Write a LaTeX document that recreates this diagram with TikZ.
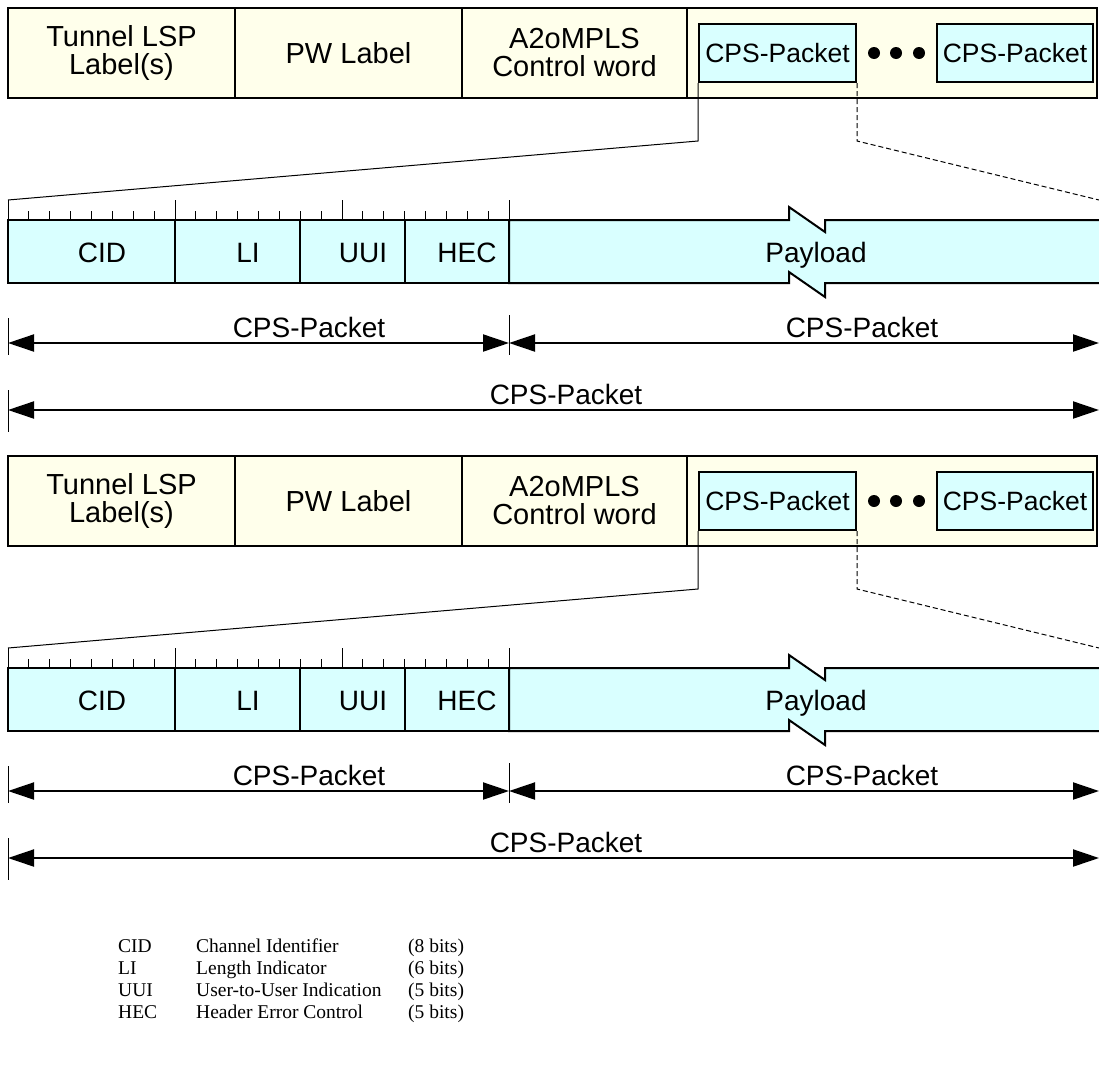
\documentclass[tikz,border=0pt]{standalone}
\usepackage{fontspec}
\setmainfont{Liberation Sans}
\newfontfamily\legendfont{Liberation Serif}
\usetikzlibrary{arrows.meta}
\definecolor{hdrfill}{rgb}{1.000,1.000,0.922}
\definecolor{cpsfill}{rgb}{0.851,1.000,1.000}
\definecolor{myblack}{rgb}{0.000,0.000,0.000}
\tikzstyle{hdr}=[rectangle,fill=hdrfill,draw=myblack,line width=2pt,minimum height=90pt,inner sep=0pt,align=center,font=\fontsize{29}{28}\selectfont]
\tikzstyle{cps}=[rectangle,fill=cpsfill,draw=myblack,line width=2pt,minimum height=58pt,minimum width=157pt,inner sep=0pt,font=\fontsize{26.5}{27}\selectfont]
\tikzstyle{field}=[rectangle,fill=cpsfill,draw=myblack,line width=2pt,minimum height=63pt,inner sep=0pt]
\tikzstyle{dot}=[circle,fill=myblack,minimum size=12pt,inner sep=0pt]
\tikzstyle{dim}=[line width=2pt,{Triangle[length=26pt,width=17pt]}-{Triangle[length=26pt,width=17pt]}]
\tikzstyle{lbl}=[anchor=base,inner sep=0pt,font=\fontsize{28}{28}\selectfont]
\tikzstyle{leg}=[anchor=base west,inner sep=0pt,font=\legendfont\fontsize{19.5}{22}\selectfont]

\begin{document}
\begin{tikzpicture}[x=1pt,y=-1pt]
	\useasboundingbox (0,0) rectangle (1099,1076);
	\foreach \s/\n in {0/a,448/b} {
	\begin{scope}[yshift=-\s pt]
		% header
		\node [style=hdr,minimum width=227pt] (\n0) at (121.5,53) {Tunnel LSP\\Label(s)};
		\node [style=hdr,minimum width=227pt] (\n1) at (348.5,53) {PW Label};
		\node [style=hdr,minimum width=225pt] (\n2) at (574.5,53) {A2oMPLS\\Control word};
		\node [style=hdr,minimum width=410pt] (\n3) at (892,53) {};
		\node [style=cps] (\n4) at (777.5,53) {CPS-Packet};
		\node [style=dot] (\n5) at (874,53) {};
		\node [style=dot] (\n6) at (896,53) {};
		\node [style=dot] (\n7) at (919,53) {};
		\node [style=cps,minimum width=156pt] (\n8) at (1015,53) {CPS-Packet};
		\coordinate (\n9) at (8,200);
		\coordinate (\n10) at (1099,200);
		\draw [line width=1pt] (\n4.south west) -- ++(0,58) -- (\n9);
		\draw [line width=1pt,dash pattern=on 5pt off 3pt] (\n4.south east) -- ++(0,58) -- (\n10);
		% payload with break
		\filldraw [fill=cpsfill,draw=myblack,line width=2pt] (509,220) -- (789,220) -- (789,207) -- (825,232) -- (825,220) -- (1103,220) -- (1103,283) -- (825,283) -- (825,297) -- (789,272) -- (789,283) -- (509,283) -- cycle;
		\node [style=field,minimum width=167pt] (\n11) at (91.5,251.5) {};
		\node [style=field,minimum width=125pt] (\n12) at (237.5,251.5) {};
		\node [style=field,minimum width=105pt] (\n13) at (352.5,251.5) {};
		\node [style=field,minimum width=104pt] (\n14) at (457,251.5) {};
		\node [style=lbl] (\n15) at (102,262) {CID};
		\node [style=lbl] (\n16) at (248,262) {LI};
		\node [style=lbl] (\n17) at (363,262) {UUI};
		\node [style=lbl] (\n18) at (467,262) {HEC};
		\node [style=lbl] (\n19) at (816,262) {Payload};
		% bit ruler
		\draw [line width=1pt] (8,200) -- (8,220) (175,200) -- (175,220) (342,200) -- (342,220) (509,200) -- (509,220);
		\foreach \t in {1,...,23} \draw [line width=1pt] (8+20.875*\t,211) -- (8+20.875*\t,220);
		% lengths
		\draw [line width=1pt] (8,318) -- (8,355) (509,315) -- (509,355) (8,390) -- (8,432);
		\coordinate (\n20) at (8,343);
		\coordinate (\n21) at (509,343);
		\coordinate (\n22) at (1099,343);
		\coordinate (\n23) at (8,410);
		\coordinate (\n24) at (1099,410);
		\draw [style=dim] (\n20) -- (\n21);
		\draw [style=dim] (\n21) -- (\n22);
		\draw [style=dim] (\n23) -- (\n24);
		\node [style=lbl] (\n25) at (309,337) {CPS-Packet};
		\node [style=lbl] (\n26) at (862,337) {CPS-Packet};
		\node [style=lbl] (\n27) at (566,404) {CPS-Packet};
	\end{scope}
	}
	% legend
	\node [style=leg] (l0) at (118,952) {CID};
	\node [style=leg] (l1) at (196,952) {Channel Identifier};
	\node [style=leg] (l2) at (408,952) {(8 bits)};
	\node [style=leg] (l3) at (118,974) {LI};
	\node [style=leg] (l4) at (196,974) {Length Indicator};
	\node [style=leg] (l5) at (408,974) {(6 bits)};
	\node [style=leg] (l6) at (118,996) {UUI};
	\node [style=leg] (l7) at (196,996) {User-to-User Indication};
	\node [style=leg] (l8) at (408,996) {(5 bits)};
	\node [style=leg] (l9) at (118,1018) {HEC};
	\node [style=leg] (l10) at (196,1018) {Header Error Control};
	\node [style=leg] (l11) at (408,1018) {(5 bits)};
\end{tikzpicture}
\end{document}
